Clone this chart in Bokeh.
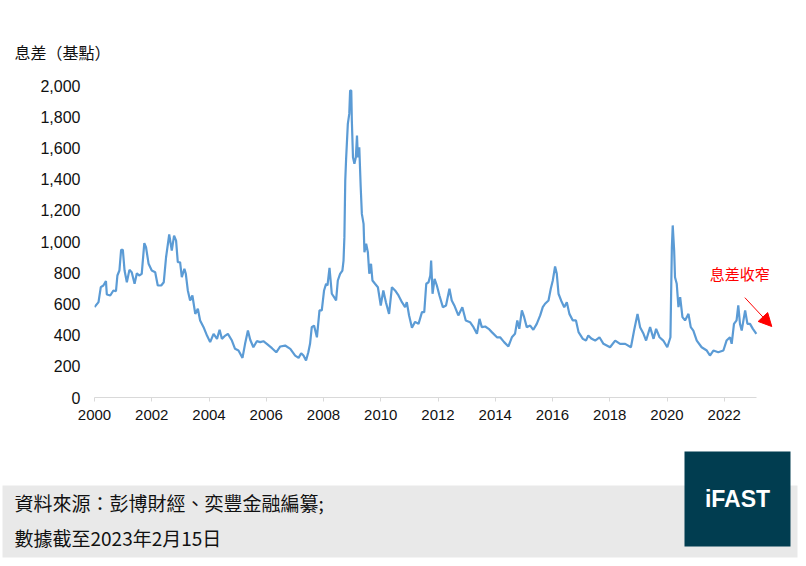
from bokeh.core.properties import value
from bokeh.embed import file_html
from bokeh.layouts import column
from bokeh.models import (Arrow, ColumnDataSource, FixedTicker, Label,
                          NormalHead, NumeralTickFormatter, Range1d)
from bokeh.plotting import figure
from bokeh.resources import INLINE

# --- data (year, spread in bp) ---
years = [
    2000.00, 2000.14, 2000.22, 2000.31, 2000.40, 2000.43, 2000.55, 2000.66, 2000.75, 2000.80,
    2000.87, 2000.93, 2000.99, 2001.05, 2001.13, 2001.22, 2001.30, 2001.40, 2001.48, 2001.56,
    2001.65, 2001.74, 2001.80, 2001.89, 2002.00, 2002.12, 2002.21, 2002.33, 2002.42, 2002.50,
    2002.61, 2002.70, 2002.78, 2002.85, 2002.91, 2002.99, 2003.05, 2003.14, 2003.19, 2003.26,
    2003.34, 2003.42, 2003.52, 2003.61, 2003.69, 2003.81, 2003.93, 2004.04, 2004.16, 2004.28,
    2004.37, 2004.45, 2004.57, 2004.66, 2004.80, 2004.91, 2005.03, 2005.17, 2005.26, 2005.36,
    2005.44, 2005.55, 2005.67, 2005.79, 2005.90, 2006.02, 2006.20, 2006.35, 2006.49, 2006.66,
    2006.84, 2007.01, 2007.13, 2007.22, 2007.30, 2007.39, 2007.47, 2007.53, 2007.59, 2007.67,
    2007.77, 2007.86, 2007.94, 2008.02, 2008.09, 2008.14, 2008.21, 2008.29, 2008.37, 2008.44,
    2008.50, 2008.58, 2008.66, 2008.70, 2008.73, 2008.76, 2008.79, 2008.85, 2008.90, 2008.93,
    2008.97, 2008.99, 2009.03, 2009.08, 2009.13, 2009.17, 2009.20, 2009.25, 2009.30, 2009.34,
    2009.40, 2009.43, 2009.49, 2009.55, 2009.60, 2009.66, 2009.71, 2009.80, 2009.90, 2010.00,
    2010.09, 2010.18, 2010.29, 2010.39, 2010.50, 2010.62, 2010.74, 2010.85, 2010.91, 2010.99,
    2011.09, 2011.20, 2011.32, 2011.44, 2011.52, 2011.59, 2011.67, 2011.73, 2011.76, 2011.81,
    2011.88, 2011.96, 2012.05, 2012.17, 2012.28, 2012.40, 2012.48, 2012.57, 2012.71, 2012.85,
    2012.97, 2013.12, 2013.24, 2013.36, 2013.45, 2013.53, 2013.65, 2013.77, 2013.88, 2014.06,
    2014.17, 2014.31, 2014.46, 2014.58, 2014.69, 2014.77, 2014.84, 2014.93, 2015.01, 2015.10,
    2015.22, 2015.33, 2015.45, 2015.57, 2015.66, 2015.74, 2015.86, 2015.94, 2016.01, 2016.09,
    2016.15, 2016.21, 2016.30, 2016.41, 2016.50, 2016.59, 2016.71, 2016.82, 2016.91, 2017.06,
    2017.17, 2017.25, 2017.37, 2017.49, 2017.64, 2017.78, 2018.01, 2018.19, 2018.36, 2018.54,
    2018.74, 2018.85, 2018.97, 2019.06, 2019.18, 2019.27, 2019.41, 2019.53, 2019.62, 2019.74,
    2019.87, 2020.01, 2020.12, 2020.17, 2020.20, 2020.25, 2020.28, 2020.34, 2020.40, 2020.46,
    2020.54, 2020.63, 2020.75, 2020.83, 2020.92, 2021.04, 2021.21, 2021.39, 2021.50, 2021.62,
    2021.79, 2021.97, 2022.08, 2022.20, 2022.26, 2022.34, 2022.43, 2022.49, 2022.55, 2022.61,
    2022.67, 2022.73, 2022.81, 2022.90, 2023.00, 2023.08, 2023.12,
]
spread = [
    579, 611, 707, 718, 746, 660, 654, 686, 681, 782,
    814, 947, 947, 814, 739, 818, 803, 729, 797, 782,
    793, 989, 963, 857, 814, 803, 718, 718, 739, 899,
    1045, 942, 1038, 1006, 867, 867, 771, 825, 793, 686,
    622, 654, 536, 569, 494, 451, 397, 355, 408, 376,
    434, 376, 397, 408, 365, 312, 301, 254, 344, 429,
    370, 322, 361, 355, 361, 344, 316, 290, 327, 333,
    312, 269, 254, 284, 269, 237, 290, 344, 451, 461,
    386, 558, 558, 686, 729, 718, 831, 665, 643, 622,
    750, 793, 814, 878, 1028, 1391, 1530, 1754, 1818, 1968,
    1968, 1776, 1540, 1498, 1540, 1679, 1540, 1604, 1348, 1177,
    1113, 931, 985, 931, 793, 857, 750, 729, 707, 590,
    686, 611, 536, 707, 686, 654, 611, 579, 611, 526,
    447, 485, 472, 547, 547, 729, 739, 782, 878, 665,
    761, 718, 654, 579, 590, 697, 622, 590, 526, 579,
    494, 483, 451, 408, 504, 451, 455, 440, 419, 386,
    386, 355, 327, 386, 408, 494, 440, 558, 515, 451,
    461, 434, 472, 526, 579, 601, 622, 697, 750, 840,
    793, 665, 622, 579, 611, 536, 494, 494, 419, 376,
    365, 397, 376, 365, 386, 344, 322, 365, 344, 344,
    322, 429, 536, 451, 408, 365, 451, 376, 440, 386,
    365, 322, 386, 963, 1103, 942, 771, 729, 579, 643,
    515, 494, 536, 451, 429, 365, 322, 301, 269, 301,
    290, 301, 365, 386, 344, 472, 494, 590, 472, 429,
    494, 558, 472, 472, 440, 419, 408,
]
x_ticks = list(range(2000, 2023, 2))
y_ticks = list(range(0, 2001, 200))

y_title = "息差（基點）"
note_text = "息差收窄"
source_text = "資料來源：彭博財經、奕豐金融編纂;"
date_text = "數據截至2023年2月15日"
logo_text = "iFAST"

# --- main chart ---
p = figure(
    width=800, height=440,
    x_range=Range1d(2000, 2024), y_range=Range1d(0, 2000),
    output_backend="svg", toolbar_location=None,
    min_border_left=94, min_border_right=19, min_border_top=85, min_border_bottom=43,
)
p.frame_align = False
p.outline_line_color = None
p.xgrid.visible = False
p.ygrid.visible = False

p.title.text = y_title
p.title.align = "left"
p.title.offset = -80
p.title.standoff = 43
p.title.text_font = "Noto Sans CJK TC"
p.title.text_font_size = "16px"
p.title.text_font_style = "normal"
p.title.text_color = "#111111"

src = ColumnDataSource(dict(x=years, y=spread))
p.line("x", "y", source=src, line_color="#5B9BD5", line_width=2.2)

# x axis
p.xaxis.ticker = FixedTicker(ticks=x_ticks)
p.xaxis.bounds = (years[0], years[-1])
p.xaxis.axis_line_color = "#d9d9d9"
p.xaxis.major_tick_line_color = "#d9d9d9"
p.xaxis.major_tick_out = 4
p.xaxis.major_tick_in = 0
p.xaxis.minor_tick_line_color = None
p.xaxis.major_label_standoff = 8
p.xaxis.major_label_text_font = "Liberation Sans"
p.xaxis.major_label_text_font_size = "15px"
p.xaxis.major_label_text_color = "#111111"

# y axis
p.yaxis.ticker = FixedTicker(ticks=y_ticks)
p.yaxis.formatter = NumeralTickFormatter(format="0,0")
p.yaxis.axis_line_color = None
p.yaxis.major_tick_line_color = None
p.yaxis.minor_tick_line_color = None
p.yaxis.major_tick_out = 0
p.yaxis.major_tick_in = 0
p.yaxis.major_label_standoff = 14
p.yaxis.major_label_text_font = "Liberation Sans"
p.yaxis.major_label_text_font_size = "16px"
p.yaxis.major_label_text_color = "#111111"

# annotation
p.add_layout(Label(
    x=2022.54, y=795, text=note_text, text_align="center", text_baseline="middle",
    text_font="Noto Sans CJK TC", text_font_size="15px", text_color="#FF0000",
))
p.add_layout(Arrow(
    end=NormalHead(size=13, fill_color="#FF0000", line_color="#FF0000"),
    x_start=2022.72, y_start=640, x_end=2023.66, y_end=455,
    line_color="#FF0000", line_width=1,
))

# --- footer ---
foot = figure(
    width=800, height=120,
    x_range=Range1d(0, 800), y_range=Range1d(120, 0),
    output_backend="svg", toolbar_location=None,
    x_axis_location=None, y_axis_location=None,
    min_border=0,
)
foot.frame_align = False
foot.outline_line_color = None
foot.xgrid.visible = False
foot.ygrid.visible = False

foot.quad(left=2, right=797, top=45, bottom=117, fill_color="#e9e9e9", line_color=None)
foot.quad(left=684, right=790, top=11, bottom=106, fill_color="#013d50", line_color=None)
foot.text(x=[14, 14], y=[62, 97], text=[source_text, date_text],
          text_font=value("Noto Sans CJK TC"), text_font_size="19px",
          text_color="#111111", text_baseline="middle")
foot.text(x=[737], y=[58], text=[logo_text],
          text_font=value("Liberation Sans"), text_font_size="23px", text_font_style="bold",
          text_color="white", text_align="center", text_baseline="middle")

layout = column(p, foot)
open("out.html", "w").write(file_html(layout, INLINE))
